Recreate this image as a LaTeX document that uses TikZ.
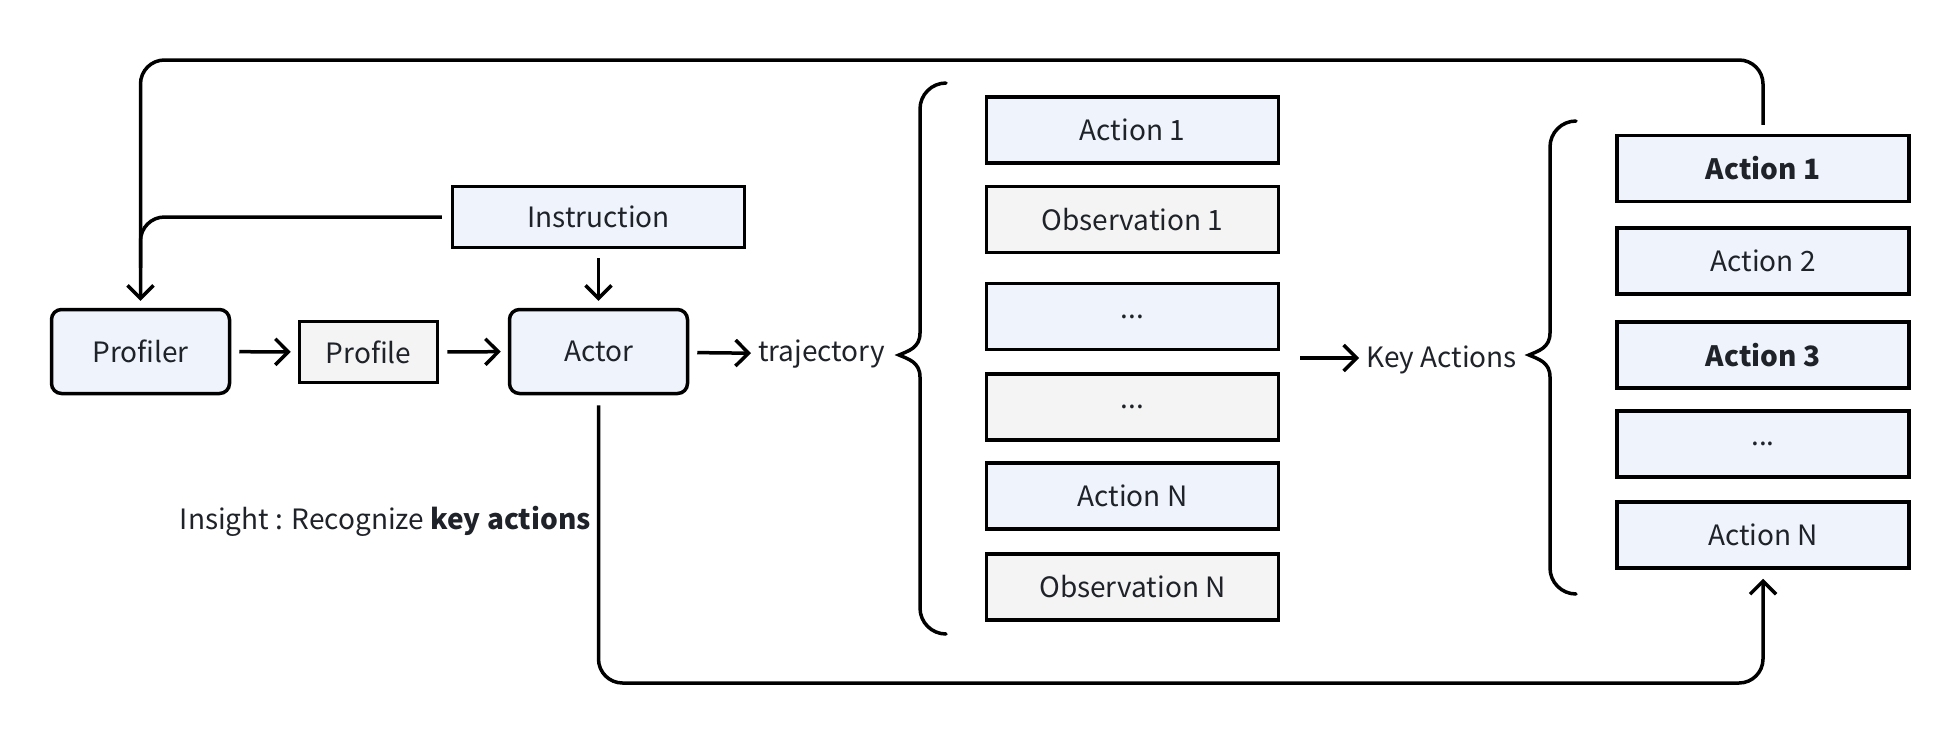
\documentclass[tikz,border=0pt]{standalone}
\usepackage{fontspec}
\setmainfont{Noto Sans CJK SC}
\usetikzlibrary{arrows.meta}
\definecolor{bluefill}{HTML}{EFF3FC}
\definecolor{greyfill}{HTML}{F4F4F4}
\definecolor{txt}{HTML}{1F2329}
\tikzset{
  ln/.style={line width=3.5pt, black},
  arr/.style={ln, -{Straight Barb[length=13pt,width=26pt,line width=3.5pt]}},
  rbox/.style={draw, line width=3.5pt, rounded corners=10pt, fill=bluefill, minimum width=178pt, minimum height=84pt, text=txt, font=\fontsize{28}{33}\selectfont, inner sep=0pt},
  sbox/.style={draw, line width=3.5pt, minimum width=292pt, minimum height=66pt, text=txt, font=\fontsize{28}{33}\selectfont, inner sep=0pt},
  bbox/.style={sbox, fill=bluefill},
  gbox/.style={sbox, fill=greyfill},
  lbl/.style={text=txt, font=\fontsize{28}{33}\selectfont, inner sep=0pt},
}
\begin{document}
\begin{tikzpicture}[x=1pt,y=-1pt]
\useasboundingbox (0,0) rectangle (1960,748);
% main flow
\node[rbox] (profiler) at (140.5,351.5) {Profiler};
\node[gbox, minimum width=138pt, minimum height=61pt] (profile) at (368.5,352) {Profile};
\node[rbox] (actor) at (598.5,351.5) {Actor};
\node[bbox, minimum height=61pt] (instr) at (598.5,217) {Instruction};
\node[lbl, anchor=west] (traj) at (758,354) {trajectory};
\node[lbl, anchor=east] (insight) at (591,521) {Insight : Recognize \textbf{key actions}};
% left column
\node[bbox] (a1) at (1132.5,130) {Action 1};
\node[gbox] (o1) at (1132.5,219.5) {Observation 1};
\node[bbox] (d1) at (1132.5,316.5) {...};
\node[gbox] (d2) at (1132.5,407) {...};
\node[bbox] (aN) at (1132.5,496) {Action N};
\node[gbox] (oN) at (1132.5,587) {Observation N};
% key actions
\node[lbl, anchor=west] (key) at (1366,360) {Key Actions};
\coordinate (keyin) at (1300,358);
% right column
\node[bbox] (r1) at (1763,168.5) {\textbf{Action 1}};
\node[bbox] (r2) at (1763,261) {Action 2};
\node[bbox] (r3) at (1763,355) {\textbf{Action 3}};
\node[bbox] (r4) at (1763,444) {...};
\node[bbox] (r5) at (1763,535) {Action N};
% braces
\draw[ln, line cap=round] (946,83) arc[start angle=-90, end angle=-180, radius=26] -- (920,333)
  .. controls (920,348) and (908,351) .. (899,355)
  .. controls (908,359) and (920,362) .. (920,377) -- (920,608) arc[start angle=180, end angle=90, radius=26];
\draw[ln, line cap=round] (1576,121) arc[start angle=-90, end angle=-180, radius=26] -- (1550,333)
  .. controls (1550,348) and (1538,351) .. (1529,355)
  .. controls (1538,359) and (1550,362) .. (1550,377) -- (1550,568) arc[start angle=180, end angle=90, radius=26];
% connectors
\draw[arr, shorten <=8pt, shorten >=7pt] (profiler) -- (profile);
\draw[arr, shorten <=8pt, shorten >=7pt] (profile) -- (actor);
\draw[arr, shorten <=8pt, shorten >=7pt] (actor) -- (traj);
\draw[arr, shorten <=9pt, shorten >=7pt] (instr) -- (actor);
\draw[arr, shorten >=7pt] (keyin) -- (key.west |- keyin);
\coordinate (topy) at (0,60);
\coordinate (boty) at (0,683);
\draw[arr, rounded corners=24pt, shorten >=7pt] ([yshift=9pt]r1.north) -- (r1.north |- topy) -- (profiler.north |- topy) -- (profiler.north);
\draw[ln, rounded corners=24pt] ([xshift=-9pt]instr.west) -| ([yshift=40pt]profiler.north);
\draw[arr, rounded corners=24pt, shorten >=9pt] ([yshift=-10pt]actor.south) -- (actor.south |- boty) -- (r5.south |- boty) -- (r5.south);
\end{tikzpicture}
\end{document}
